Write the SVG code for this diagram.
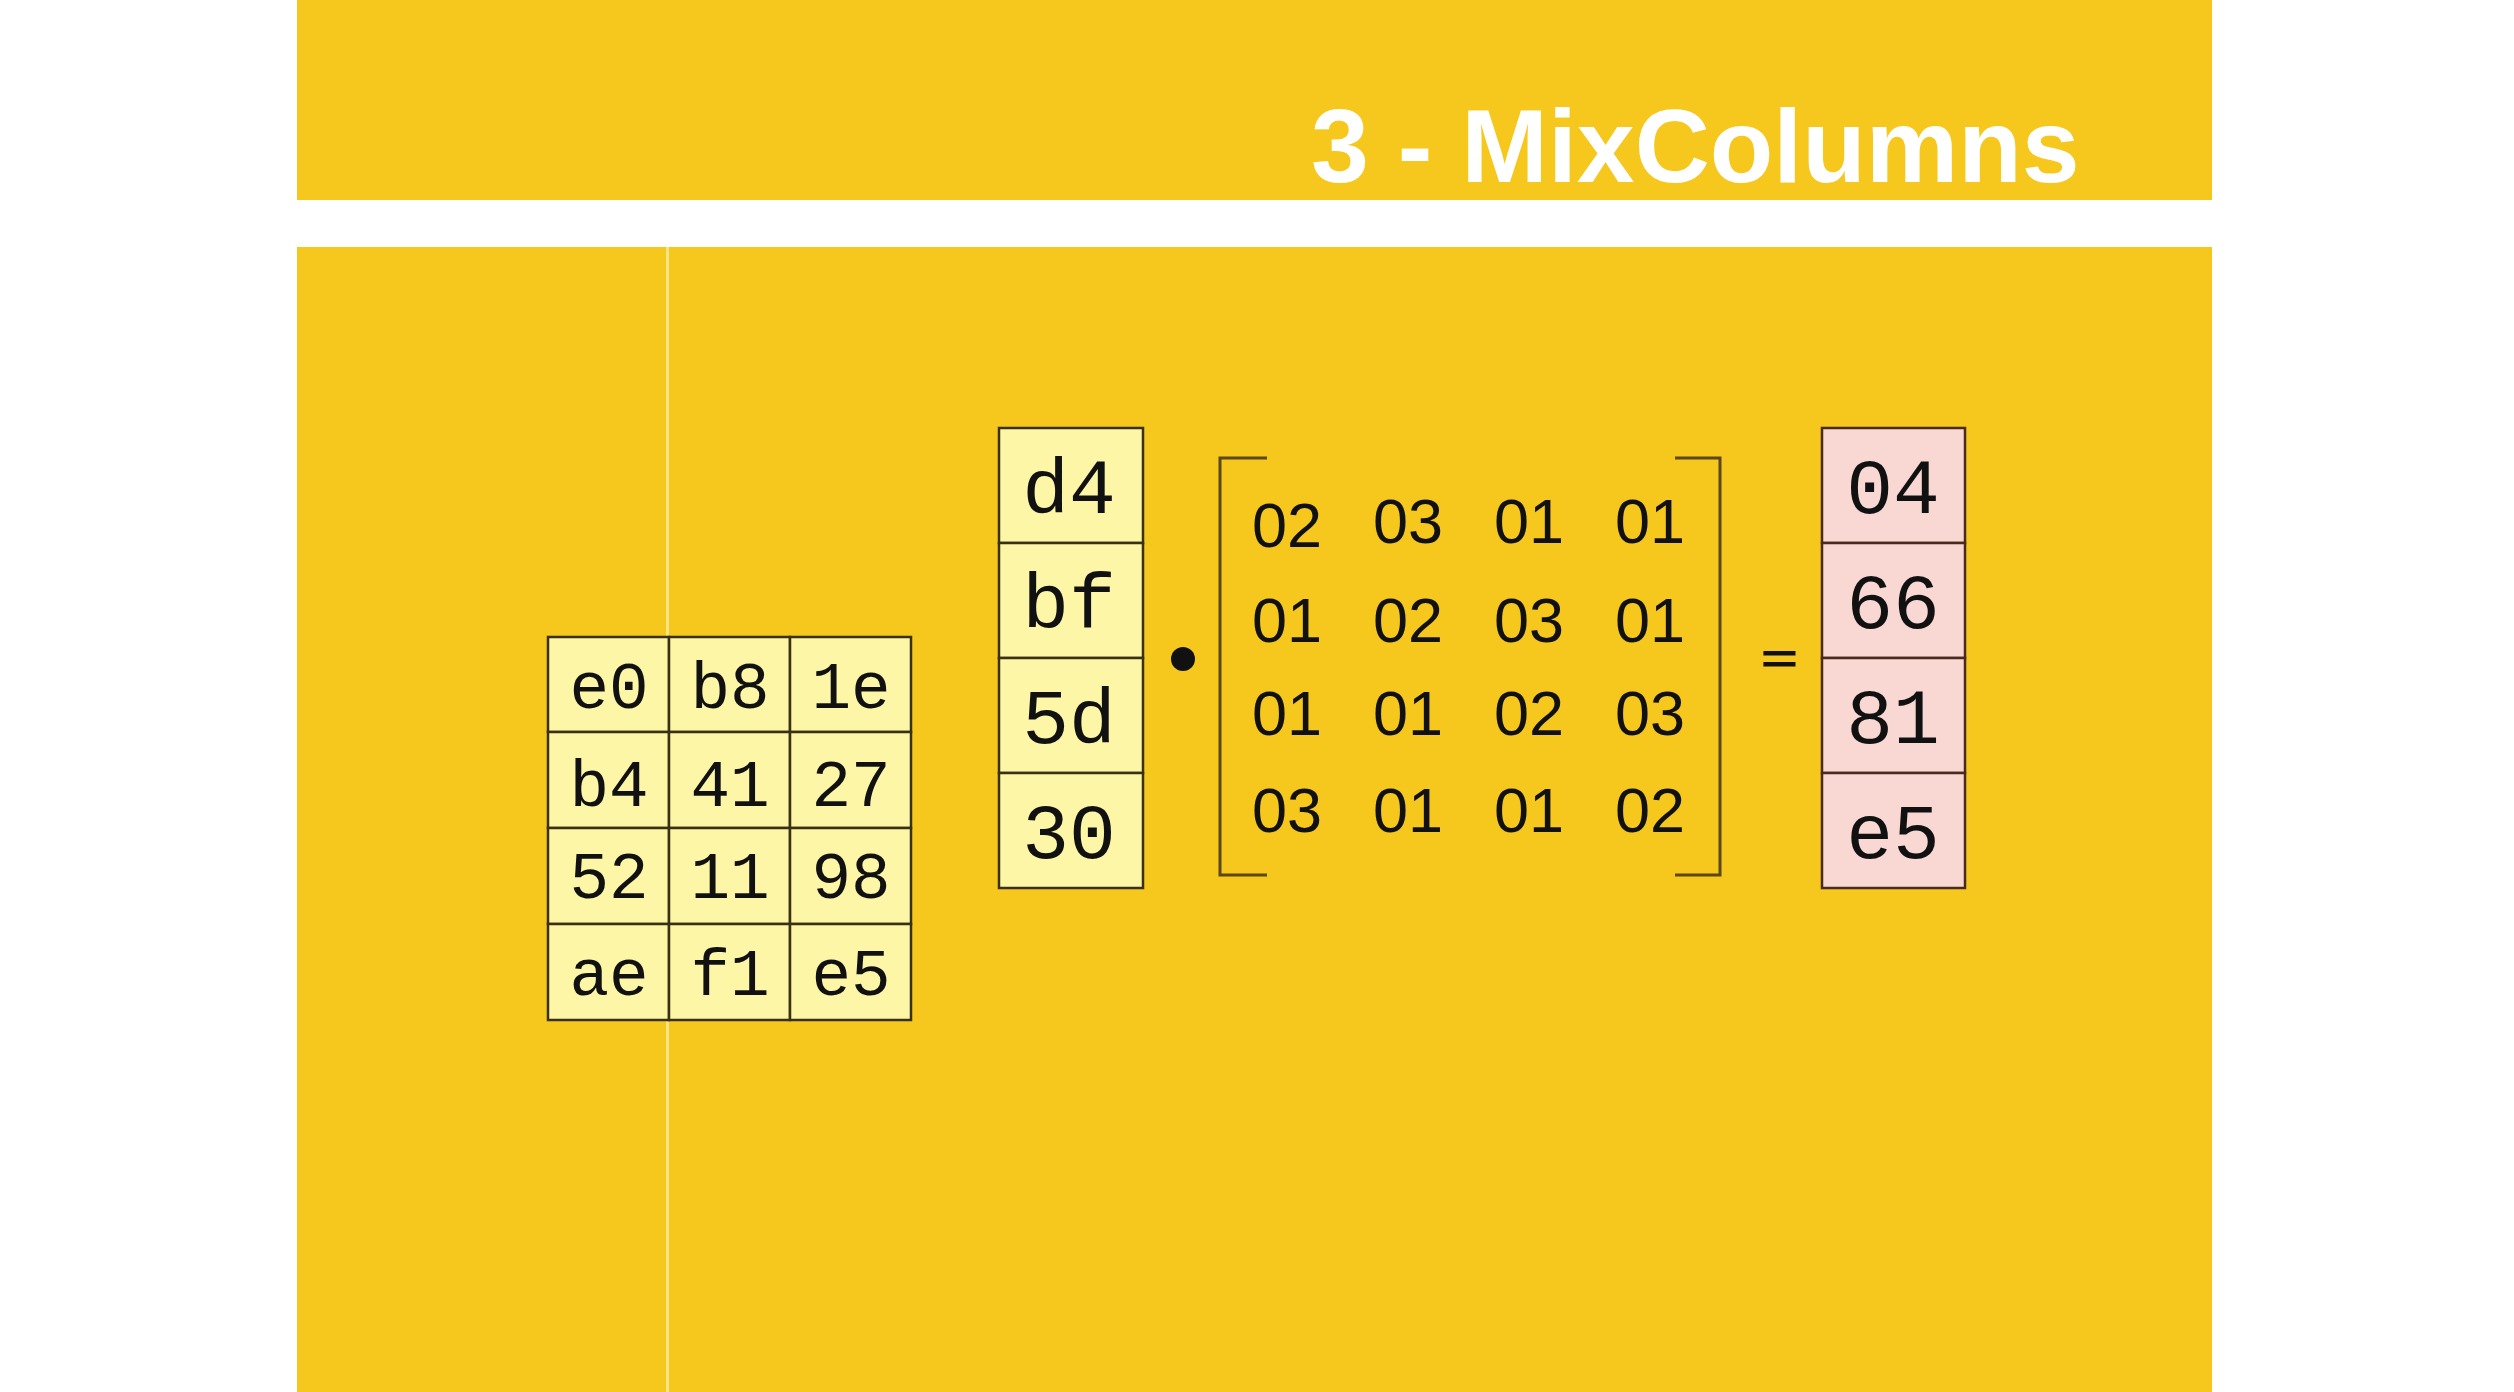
<svg xmlns="http://www.w3.org/2000/svg" width="2514" height="1392" viewBox="0 0 2514 1392">
  <style>
    .bg { fill: #F6C71C; }
    .cell { fill: #FCF6A6; stroke: #3a3014; stroke-width: 2.5; }
    .rcell { fill: #F9D7D2; stroke: #4a2a1c; stroke-width: 2.5; }
    .grid { font-family: "Liberation Mono", "Courier New", monospace; font-size: 66px; fill: #111; text-anchor: middle; }
    .col { font-family: "Liberation Mono", "Courier New", monospace; font-size: 78px; fill: #111; text-anchor: middle; }
    .mat { font-family: "Liberation Sans", Arial, sans-serif; font-size: 63px; fill: #111; text-anchor: middle; }
    .bracket { fill: none; stroke: #5a4712; stroke-width: 3; }
    .title { font-family: "Liberation Sans", Arial, Helvetica, sans-serif; font-weight: bold; font-size: 104px; fill: #ffffff; }
  </style>
  <rect width="2514" height="1392" fill="#ffffff"/>
  <g id="header">
    <rect class="bg" x="297" y="0" width="1915" height="200"/>
    <text class="title" x="1311" y="182">3 - MixColumns</text>
  </g>
  <g id="panel">
    <rect class="bg" x="297" y="247" width="1915" height="1145"/>
    <rect x="666" y="247" width="3" height="1145" fill="#FBE486"/>
  </g>
  <g id="state-grid">
    <rect class="cell" x="548" y="637" width="121" height="95"/>
    <rect class="cell" x="669" y="637" width="121" height="95"/>
    <rect class="cell" x="790" y="637" width="121" height="95"/>
    <rect class="cell" x="548" y="732" width="121" height="96"/>
    <rect class="cell" x="669" y="732" width="121" height="96"/>
    <rect class="cell" x="790" y="732" width="121" height="96"/>
    <rect class="cell" x="548" y="828" width="121" height="96"/>
    <rect class="cell" x="669" y="828" width="121" height="96"/>
    <rect class="cell" x="790" y="828" width="121" height="96"/>
    <rect class="cell" x="548" y="924" width="121" height="96"/>
    <rect class="cell" x="669" y="924" width="121" height="96"/>
    <rect class="cell" x="790" y="924" width="121" height="96"/>
    <text class="grid" x="609" y="708">e0</text>
    <text class="grid" x="730" y="708">b8</text>
    <text class="grid" x="851" y="708">1e</text>
    <text class="grid" x="609" y="806">b4</text>
    <text class="grid" x="730" y="806">41</text>
    <text class="grid" x="851" y="806">27</text>
    <text class="grid" x="609" y="898">52</text>
    <text class="grid" x="730" y="898">11</text>
    <text class="grid" x="851" y="898">98</text>
    <text class="grid" x="609" y="995">ae</text>
    <text class="grid" x="730" y="995">f1</text>
    <text class="grid" x="851" y="995">e5</text>
  </g>
  <g id="input-column">
    <rect class="cell" x="999" y="428" width="144" height="115"/>
    <rect class="cell" x="999" y="543" width="144" height="115"/>
    <rect class="cell" x="999" y="658" width="144" height="115"/>
    <rect class="cell" x="999" y="773" width="144" height="115"/>
    <text class="col" x="1069" y="513">d4</text>
    <text class="col" x="1069" y="628">bf</text>
    <text class="col" x="1069" y="743">5d</text>
    <text class="col" x="1069" y="858">30</text>
  </g>
  <g id="dot-operator">
    <circle cx="1183" cy="659" r="12" fill="#111"/>
  </g>
  <g id="mix-matrix">
    <path class="bracket" d="M1267,458 H1220 V875 H1267"/>
    <path class="bracket" d="M1675,458 H1720 V875 H1675"/>
    <text class="mat" x="1287" y="547">02</text>
    <text class="mat" x="1408" y="543">03</text>
    <text class="mat" x="1529" y="543">01</text>
    <text class="mat" x="1650" y="543">01</text>
    <text class="mat" x="1287" y="642">01</text>
    <text class="mat" x="1408" y="642">02</text>
    <text class="mat" x="1529" y="642">03</text>
    <text class="mat" x="1650" y="642">01</text>
    <text class="mat" x="1287" y="735">01</text>
    <text class="mat" x="1408" y="735">01</text>
    <text class="mat" x="1529" y="735">02</text>
    <text class="mat" x="1650" y="735">03</text>
    <text class="mat" x="1287" y="832">03</text>
    <text class="mat" x="1408" y="832">01</text>
    <text class="mat" x="1529" y="832">01</text>
    <text class="mat" x="1650" y="832">02</text>
  </g>
  <g id="equals">
    <text transform="translate(1779.5,673) scale(1.6,1)" x="0" y="0" font-family="Liberation Sans, Arial, sans-serif" font-weight="bold" font-size="40" fill="#111" text-anchor="middle">=</text>
  </g>
  <g id="result-column">
    <rect class="rcell" x="1822" y="428" width="143" height="115"/>
    <rect class="rcell" x="1822" y="543" width="143" height="115"/>
    <rect class="rcell" x="1822" y="658" width="143" height="115"/>
    <rect class="rcell" x="1822" y="773" width="143" height="115"/>
    <text class="col" x="1893" y="513">04</text>
    <text class="col" x="1893" y="628">66</text>
    <text class="col" x="1893" y="743">81</text>
    <text class="col" x="1893" y="858">e5</text>
  </g>
  <g id="connectors"/>
</svg>
